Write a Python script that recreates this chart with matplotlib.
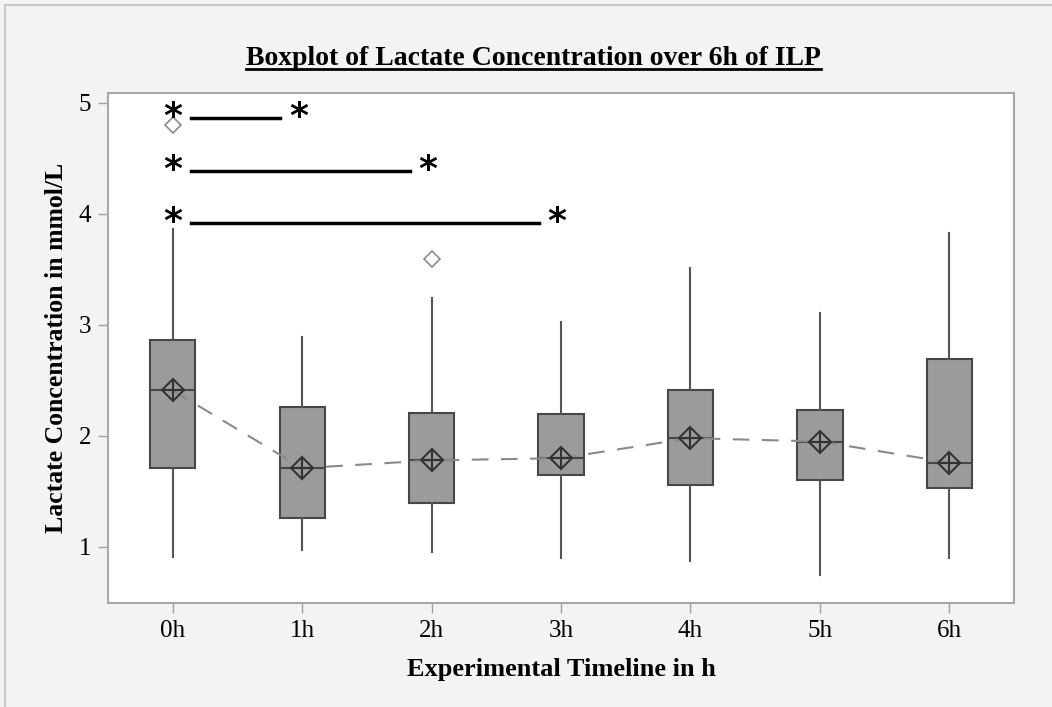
import matplotlib.pyplot as plt
from matplotlib.lines import Line2D

# Lactate values (mmol/L)
HOURS = ['0h', '1h', '2h', '3h', '4h', '5h', '6h']
WHISKER_LOW = [0.91, 0.97, 0.95, 0.90, 0.87, 0.75, 0.90]
Q1 = [1.71, 1.26, 1.40, 1.65, 1.56, 1.60, 1.53]
MEDIAN = [2.41, 1.71, 1.78, 1.80, 1.98, 1.95, 1.76]
Q3 = [2.86, 2.26, 2.21, 2.20, 2.41, 2.23, 2.69]
WHISKER_HIGH = [3.86, 2.89, 3.24, 3.03, 3.51, 3.11, 3.83]
MEAN = [2.41, 1.71, 1.78, 1.80, 1.98, 1.95, 1.76]
OUTLIERS = [[4.80], [], [3.59], [], [], [], []]

# significance brackets: (from group, to group, height)
SIG_PAIRS = [(0, 1, 4.86), (0, 2, 4.39), (0, 3, 3.92)]

plt.rcParams['font.family'] = ['Liberation Serif', 'DejaVu Serif']

fig = plt.figure(figsize=(10.52, 7.07), dpi=100, facecolor='#f3f3f3')
ax = fig.add_axes([0.1027, 0.1471, 0.8612, 0.7214])
ax.set_facecolor('white')

stats = []
for i in range(len(HOURS)):
    stats.append(dict(whislo=WHISKER_LOW[i], q1=Q1[i], med=MEDIAN[i], q3=Q3[i],
                      whishi=WHISKER_HIGH[i], mean=MEAN[i], fliers=OUTLIERS[i],
                      label=HOURS[i]))

pos = list(range(len(HOURS)))
ax.bxp(stats, positions=pos, widths=0.35, patch_artist=True, showcaps=False,
       showmeans=False,
       boxprops=dict(facecolor='#9b9b9b', edgecolor='#474747', linewidth=1.5),
       medianprops=dict(color='#474747', linewidth=1.5),
       whiskerprops=dict(color='#555555', linewidth=1.5),
       flierprops=dict(marker='D', markersize=8, markerfacecolor='none',
                       markeredgecolor='#8c8c8c', markeredgewidth=1.2))

# mean connect line and markers
ax.plot(pos, MEAN, linestyle=(0, (8, 6)), color='#8a8a8a', linewidth=1.5, zorder=3)
ax.plot(pos, MEAN, 'D', markersize=11, markerfacecolor='none',
        markeredgecolor='#333333', markeredgewidth=1.5, zorder=4)
ax.plot(pos, MEAN, '+', markersize=14, markeredgecolor='#333333',
        markeredgewidth=1.5, zorder=4)

# significance marks
for a, b, h in SIG_PAIRS:
    ax.plot([a + 0.14, b - 0.17], [h, h], color='black', linewidth=2.5, zorder=5)
    ax.text(a, h + 0.01, '*', ha='center', va='center', fontsize=26,
            fontweight='bold', family='DejaVu Sans', zorder=6)
    ax.text(b - 0.03, h + 0.01, '*', ha='center', va='center', fontsize=26,
            fontweight='bold', family='DejaVu Sans', zorder=6)

ax.set_xlim(-0.5, 6.5)
ax.set_ylim(0.495, 5.09)
ax.set_xticks(pos)
ax.set_xticklabels(HOURS)
ax.set_yticks([1, 2, 3, 4, 5])
ax.tick_params(axis='both', direction='out', length=7, width=1, color='#a0a0a0',
               labelsize=18, pad=5)
for s in ax.spines.values():
    s.set_color('#a8a8a8')
    s.set_linewidth(1.5)

ax.set_xlabel('Experimental Timeline in h', fontsize=19, fontweight='bold', labelpad=12)
ax.set_ylabel('Lactate Concentration in mmol/L', fontsize=18.5, fontweight='bold', labelpad=8)

title = fig.text(0.507, 0.908, 'Boxplot of Lactate Concentration over 6h of ILP',
                 ha='center', va='baseline', fontsize=20, fontweight='bold')

# underline the title
fig.canvas.draw()
bb = title.get_window_extent().transformed(fig.transFigure.inverted())
fig.add_artist(Line2D([bb.x0, bb.x1], [0.902, 0.902], color='black', linewidth=2))

# light frame around the figure
fig.add_artist(Line2D([0.005, 0.005], [0, 0.993], color='#c8c8c8', linewidth=1.5))
fig.add_artist(Line2D([0.005, 1], [0.993, 0.993], color='#c8c8c8', linewidth=1.5))

fig.savefig('out.png', dpi=100, facecolor=fig.get_facecolor())
